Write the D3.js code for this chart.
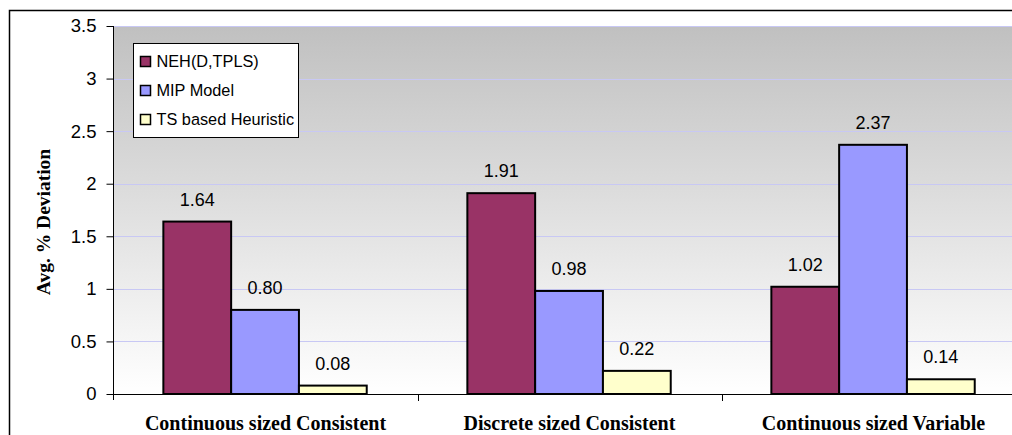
<!DOCTYPE html>
<html>
<head>
<meta charset="utf-8">
<script src="https://cdn.jsdelivr.net/npm/d3@7"></script>
<style>
  html, body { margin: 0; padding: 0; background: #ffffff; overflow: hidden; }
  svg { display: block; }
</style>
</head>
<body>
<svg id="chart" width="1012" height="435"></svg>
<script>
// ---- data ----
const categories = ["Continuous sized Consistent", "Discrete sized Consistent", "Continuous sized Variable"];
const seriesNames = ["NEH(D,TPLS)", "MIP Model", "TS based Heuristic"];
const nehValues = [1.64, 1.91, 1.02];
const mipValues = [0.80, 0.98, 2.37];
const tsValues = [0.08, 0.22, 0.14];
const yTickValues = [0, 0.5, 1, 1.5, 2, 2.5, 3, 3.5];
const yTickLabels = ["0", "0.5", "1", "1.5", "2", "2.5", "3", "3.5"];
const yTitle = "Avg. % Deviation";

const seriesValues = [nehValues, mipValues, tsValues];
const colors = ["#993366", "#9999ff", "#ffffcc"];

const svg = d3.select("#chart");

const plot = { left: 113.5, right: 1025.5, top: 26, bottom: 394 };

const x = d3.scaleBand().domain(categories).range([plot.left, plot.right]).paddingInner(0).paddingOuter(0);
const bw = x.bandwidth();
const xs = d3.scaleBand().domain(seriesNames).range([bw * 0.164, bw * 0.833]).padding(0);
const y = d3.scaleLinear().domain([0, 3.5]).range([plot.bottom, plot.top]);

// outer chart border
svg.append("rect")
  .attr("x", 9.5).attr("y", 10.5)
  .attr("width", 1100).attr("height", 500)
  .attr("fill", "#ffffff").attr("stroke", "#000").attr("stroke-width", 1.5);

// gradient
const defs = svg.append("defs");
const grad = defs.append("linearGradient").attr("id", "bg").attr("x1", 0).attr("y1", 0).attr("x2", 0).attr("y2", 1);
grad.append("stop").attr("offset", "0%").attr("stop-color", "#c0c0c0");
grad.append("stop").attr("offset", "100%").attr("stop-color", "#ffffff");

svg.append("rect")
  .attr("x", plot.left).attr("y", plot.top)
  .attr("width", plot.right - plot.left).attr("height", plot.bottom - plot.top)
  .attr("fill", "url(#bg)");

// gridlines
svg.append("g").selectAll("line")
  .data(yTickValues.filter(v => v > 0))
  .join("line")
  .attr("x1", plot.left).attr("x2", plot.right)
  .attr("y1", d => Math.round(y(d)) + 0.5).attr("y2", d => Math.round(y(d)) + 0.5)
  .attr("stroke", "#c8c8f4").attr("stroke-width", 1);

// bars
const data = [];
categories.forEach((c, i) => {
  seriesNames.forEach((s, j) => {
    data.push({ cat: c, series: s, value: seriesValues[j][i], color: colors[j] });
  });
});

const barG = svg.append("g");
barG.selectAll("rect")
  .data(data)
  .join("rect")
  .attr("x", d => x(d.cat) + xs(d.series))
  .attr("y", d => y(d.value))
  .attr("width", xs.bandwidth())
  .attr("height", d => y(0) - y(d.value))
  .attr("fill", d => d.color)
  .attr("stroke", "#000")
  .attr("stroke-width", 2);

// value labels
barG.selectAll("text")
  .data(data)
  .join("text")
  .attr("x", d => x(d.cat) + xs(d.series) + xs.bandwidth() / 2)
  .attr("y", d => y(d.value) - 16)
  .attr("text-anchor", "middle")
  .attr("font-family", "Arial, 'Liberation Sans', sans-serif")
  .attr("font-size", "18px")
  .attr("fill", "#000")
  .text(d => d.value.toFixed(2));

// y axis
const yAxis = d3.axisLeft(y)
  .tickValues(yTickValues)
  .tickFormat((d, i) => yTickLabels[i])
  .tickSize(7)
  .tickPadding(10);
const yg = svg.append("g").attr("transform", `translate(${plot.left},0)`).call(yAxis);
yg.select(".domain").attr("stroke", "#000").attr("d", `M-0,${plot.bottom + 6}V${plot.top}`);
yg.selectAll(".tick line").attr("stroke", "#000");
yg.selectAll(".tick text")
  .attr("font-family", "Arial, 'Liberation Sans', sans-serif")
  .attr("font-size", "18.5px")
  .attr("fill", "#000");

// x axis
const xAxis = d3.axisBottom(x).tickSize(0).tickFormat("");
const xg = svg.append("g").attr("transform", `translate(0,${plot.bottom})`).call(xAxis);
xg.select(".domain").attr("stroke", "#000").attr("d", `M${plot.left},0.5H${plot.right}`);
// category boundary ticks
xg.append("g").selectAll("line")
  .data(categories.slice(1))
  .join("line")
  .attr("x1", d => Math.round(x(d)) + 0.5).attr("x2", d => Math.round(x(d)) + 0.5)
  .attr("y1", 0).attr("y2", 7)
  .attr("stroke", "#000");
// category labels
xg.append("g").selectAll("text")
  .data(categories)
  .join("text")
  .attr("x", d => x(d) + bw / 2)
  .attr("y", 36)
  .attr("text-anchor", "middle")
  .attr("font-family", "'Times New Roman', 'Liberation Serif', serif")
  .attr("font-weight", "bold")
  .attr("font-size", "20px")
  .attr("fill", "#000")
  .text(d => d);

// y title
svg.append("text")
  .attr("transform", `translate(50,222) rotate(-90)`)
  .attr("text-anchor", "middle")
  .attr("font-family", "'Times New Roman', 'Liberation Serif', serif")
  .attr("font-weight", "bold")
  .attr("font-size", "19.5px")
  .attr("fill", "#000")
  .text(yTitle);

// legend
const lg = svg.append("g").attr("transform", "translate(133.5,43.5)");
lg.append("rect")
  .attr("x", 0).attr("y", 0).attr("width", 165).attr("height", 94)
  .attr("fill", "#fff").attr("stroke", "#000").attr("stroke-width", 1);
const items = lg.selectAll("g.item")
  .data(seriesNames)
  .join("g")
  .attr("class", "item")
  .attr("transform", (d, i) => `translate(7,${18 + i * 29})`);
items.append("rect")
  .attr("x", 0).attr("y", -5).attr("width", 10).attr("height", 10)
  .attr("fill", (d, i) => colors[i])
  .attr("stroke", "#000").attr("stroke-width", 1.5);
items.append("text")
  .attr("x", 16).attr("y", 0).attr("dy", "0.36em")
  .attr("font-family", "Arial, 'Liberation Sans', sans-serif")
  .attr("font-size", "16.3px")
  .attr("fill", "#000")
  .text(d => d);
</script>
</body>
</html>
